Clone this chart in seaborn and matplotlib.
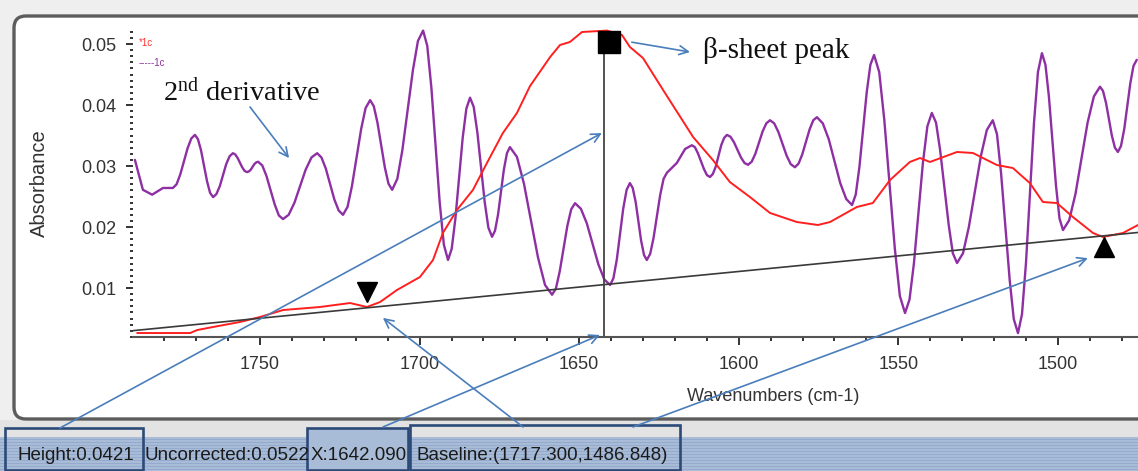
import matplotlib
matplotlib.use("Agg")
import matplotlib.pyplot as plt
import seaborn as sns
from matplotlib.patches import FancyBboxPatch, Rectangle
from matplotlib.ticker import MultipleLocator

# ---------------- data ----------------
absorb_wn = [1788.5, 1771.9, 1769.7, 1764.7, 1756.3, 1750.0, 1742.8, 1731.2, 1721.8, 1716.5,
             1712.4, 1707.1, 1699.9, 1695.8, 1692.7, 1688.3, 1683.3, 1678.9, 1673.9, 1669.5,
             1665.4, 1659.1, 1656.0, 1652.9, 1649.1, 1641.3, 1636.6, 1634.1, 1630.0, 1623.7,
             1614.3, 1608.1, 1602.8, 1596.5, 1590.2, 1581.8, 1575.2, 1571.4, 1563.0, 1558.0,
             1552.6, 1546.4, 1543.2, 1540.1, 1531.6, 1526.6, 1519.1, 1514.1, 1508.8, 1504.7,
             1500.3, 1495.3, 1489.0, 1485.9, 1479.6, 1474.9]
absorb_val = [0.00262, 0.00262, 0.00311, 0.00361, 0.00443, 0.00525, 0.00639, 0.00689, 0.00754, 0.00689,
              0.00770, 0.00967, 0.01180, 0.01459, 0.01902, 0.02279, 0.02607, 0.03049, 0.03541, 0.03869,
              0.04311, 0.04787, 0.04984, 0.05033, 0.05197, 0.05220, 0.05148, 0.04951, 0.04770, 0.04246,
              0.03475, 0.03098, 0.02738, 0.02492, 0.02230, 0.02082, 0.02033, 0.02082, 0.02328, 0.02393,
              0.02770, 0.03066, 0.03131, 0.03066, 0.03230, 0.03213, 0.03016, 0.02967, 0.02721, 0.02410,
              0.02393, 0.02164, 0.01902, 0.01836, 0.01902, 0.02033]

deriv_wn = [1789.2, 1786.7, 1783.8, 1780.4, 1777.3, 1776.15, 1775.0, 1772.7, 1771.55, 1770.4,
            1769.45, 1768.5, 1766.6, 1765.65, 1764.7, 1763.67, 1762.6, 1760.6, 1759.53, 1758.5,
            1757.77, 1757.0, 1755.6, 1754.83, 1754.1, 1753.52, 1752.9, 1751.8, 1751.18, 1750.6,
            1749.3, 1748.0, 1745.4, 1744.1, 1742.8, 1741.02, 1739.2, 1735.7, 1733.88, 1732.1,
            1730.75, 1729.4, 1726.7, 1725.35, 1724.0, 1722.58, 1721.2, 1718.3, 1716.92, 1715.5,
            1714.35, 1713.2, 1710.9, 1709.75, 1708.6, 1706.98, 1705.4, 1702.1, 1700.52, 1698.9,
            1697.6, 1696.3, 1693.7, 1692.4, 1691.1, 1689.95, 1688.8, 1686.5, 1685.35, 1684.2,
            1683.05, 1681.9, 1679.6, 1678.45, 1677.3, 1676.37, 1675.4, 1673.6, 1672.63, 1671.7,
            1669.5, 1667.3, 1662.9, 1660.7, 1658.5, 1657.3, 1656.1, 1653.7, 1652.5, 1651.3,
            1649.47, 1647.6, 1644.0, 1642.13, 1640.3, 1639.27, 1638.2, 1636.2, 1635.13, 1634.1,
            1633.22, 1632.3, 1630.6, 1629.68, 1628.8, 1627.75, 1626.7, 1624.6, 1623.55, 1622.5,
            1619.4, 1616.8, 1614.7, 1613.75, 1612.8, 1610.9, 1609.95, 1609.0, 1608.12, 1607.2,
            1605.5, 1604.58, 1603.7, 1602.6, 1601.5, 1599.3, 1598.2, 1597.1, 1595.95, 1594.8,
            1592.5, 1591.35, 1590.2, 1588.9, 1587.6, 1585.0, 1583.7, 1582.4, 1581.25, 1580.1,
            1577.8, 1576.65, 1575.5, 1573.67, 1571.8, 1568.2, 1566.33, 1564.5, 1563.35, 1562.2,
            1559.9, 1558.75, 1557.6, 1555.98, 1554.4, 1551.1, 1549.52, 1547.9, 1546.5, 1545.1,
            1542.3, 1540.9, 1539.5, 1538.18, 1536.9, 1534.2, 1532.92, 1531.6, 1529.73, 1527.9,
            1524.1, 1522.27, 1520.4, 1519.08, 1517.8, 1515.1, 1513.82, 1512.5, 1511.25, 1510.0,
            1507.5, 1506.25, 1505.0, 1503.9, 1502.8, 1500.6, 1499.5, 1498.4, 1496.47, 1494.5,
            1490.7, 1488.73, 1486.8, 1485.87, 1484.9, 1483.1, 1482.13, 1481.2, 1480.22, 1479.2,
            1477.3, 1476.32, 1475.3]
deriv_val = [0.0310, 0.0261, 0.0253, 0.0264, 0.0264, 0.0270, 0.0286, 0.0329, 0.0345, 0.0351,
             0.0344, 0.0326, 0.0275, 0.0256, 0.0249, 0.0254, 0.0267, 0.0303, 0.0316, 0.0321,
             0.0319, 0.0313, 0.0298, 0.0292, 0.0290, 0.0291, 0.0294, 0.0303, 0.0306, 0.0307,
             0.0301, 0.0284, 0.0237, 0.0219, 0.0213, 0.0220, 0.0240, 0.0294, 0.0314, 0.0321,
             0.0314, 0.0296, 0.0245, 0.0227, 0.0220, 0.0233, 0.0267, 0.0361, 0.0395, 0.0408,
             0.0398, 0.0371, 0.0298, 0.0271, 0.0261, 0.0279, 0.0326, 0.0457, 0.0505, 0.0522,
             0.0497, 0.0428, 0.0240, 0.0171, 0.0146, 0.0164, 0.0213, 0.0346, 0.0394, 0.0412,
             0.0397, 0.0355, 0.0241, 0.0199, 0.0184, 0.0194, 0.0221, 0.0294, 0.0321, 0.0331,
             0.0315, 0.0271, 0.0150, 0.0105, 0.0089, 0.0099, 0.0127, 0.0202, 0.0229, 0.0239,
             0.0230, 0.0206, 0.0139, 0.0114, 0.0105, 0.0116, 0.0147, 0.0230, 0.0261, 0.0272,
             0.0264, 0.0241, 0.0178, 0.0154, 0.0146, 0.0156, 0.0182, 0.0253, 0.0279, 0.0289,
             0.0305, 0.0328, 0.0334, 0.0331, 0.0321, 0.0295, 0.0285, 0.0282, 0.0287, 0.0299,
             0.0334, 0.0346, 0.0351, 0.0348, 0.0339, 0.0314, 0.0305, 0.0302, 0.0307, 0.0320,
             0.0357, 0.0370, 0.0375, 0.0370, 0.0356, 0.0317, 0.0303, 0.0298, 0.0304, 0.0319,
             0.0360, 0.0375, 0.0380, 0.0370, 0.0344, 0.0272, 0.0246, 0.0236, 0.0253, 0.0298,
             0.0421, 0.0466, 0.0482, 0.0454, 0.0376, 0.0165, 0.0087, 0.0059, 0.0081, 0.0141,
             0.0305, 0.0365, 0.0387, 0.0371, 0.0326, 0.0203, 0.0157, 0.0141, 0.0157, 0.0200,
             0.0317, 0.0359, 0.0375, 0.0352, 0.0288, 0.0113, 0.0049, 0.0026, 0.0057, 0.0141,
             0.0370, 0.0454, 0.0485, 0.0466, 0.0413, 0.0268, 0.0214, 0.0195, 0.0211, 0.0254,
             0.0371, 0.0414, 0.0430, 0.0423, 0.0403, 0.0350, 0.0330, 0.0323, 0.0333, 0.0361,
             0.0436, 0.0464, 0.0474]

baseline_wn = [1790.0, 1475.0]
baseline_val = [0.0030, 0.0191]

start_marker = (1716.5, 0.0093)     # down triangle
end_marker = (1485.6, 0.0167)       # up triangle
peak_marker = (1640.7, 0.0504)      # square
peak_wn = 1642.09

x_ticks = [1750, 1700, 1650, 1600, 1550, 1500]
y_ticks = [0.01, 0.02, 0.03, 0.04, 0.05]
x_limits = (1789.8, 1474.9)
y_limits = (0.00197, 0.05246)

status_labels = ["Height:0.0421", "Uncorrected:0.0522", "X:1642.090",
                 "Baseline:(1717.300,1486.848)"]

# ---------------- style ----------------
sns.set_theme(style="white")
plt.rcParams['font.family'] = ['Liberation Sans', 'DejaVu Sans']
plt.rcParams['mathtext.fontset'] = 'custom'
plt.rcParams['mathtext.rm'] = 'Liberation Serif'
plt.rcParams['mathtext.it'] = 'Liberation Serif:italic'
plt.rcParams['lines.solid_joinstyle'] = 'round'

W, H = 1138, 471
fig = plt.figure(figsize=(W / 100, H / 100), dpi=100, facecolor='#efefef')

# background (window chrome)
bg = fig.add_axes([0, 0, 1, 1], zorder=0)
bg.set_xlim(0, W)
bg.set_ylim(H, 0)
bg.axis('off')
bg.add_patch(Rectangle((0, 420), W, 18, facecolor='#e3e3e3', edgecolor='none'))
bg.add_patch(Rectangle((0, 437), W, 34, facecolor='#a9bcd7', edgecolor='none'))
for yy in range(439, 471, 3):
    bg.add_patch(Rectangle((0, yy), W, 1.2, facecolor='#95abcd', edgecolor='none'))
bg.add_patch(FancyBboxPatch((14, 16), 1160, 403,
                            boxstyle="round,pad=0,rounding_size=12",
                            facecolor='white', edgecolor='#5c5c5c', linewidth=2.4))

# main axes
ax = fig.add_axes([133 / W, (H - 337) / H, (W - 133) / W, 308 / H], zorder=1)
ax.patch.set_alpha(0)

sns.lineplot(x=deriv_wn, y=deriv_val, ax=ax, color='#8e2fa3', lw=1.7, estimator=None)
sns.lineplot(x=absorb_wn, y=absorb_val, ax=ax, color='#ff1f1f', lw=1.4, estimator=None)
sns.lineplot(x=baseline_wn, y=baseline_val, ax=ax, color='#3a3a3a', lw=1.2, estimator=None)

ax.vlines(peak_wn, y_limits[0], peak_marker[1], color='#444444', lw=1.3)
ax.plot([start_marker[0]], [start_marker[1]], marker='v', ms=14, color='black', clip_on=False)
ax.plot([end_marker[0]], [end_marker[1]], marker='^', ms=15, color='black', clip_on=False)
ax.plot([peak_marker[0]], [peak_marker[1]], marker='s', ms=16, color='black', clip_on=False)

ax.set_xlim(*x_limits)
ax.set_ylim(*y_limits)
ax.set_xticks(x_ticks)
ax.set_yticks(y_ticks)
ax.set_xticklabels([str(t) for t in x_ticks])
ax.set_yticklabels([f"{t:.2f}" for t in y_ticks])
ax.xaxis.set_minor_locator(MultipleLocator(10))
ax.yaxis.set_minor_locator(MultipleLocator(0.001))
for s in ['top', 'right', 'left']:
    ax.spines[s].set_visible(False)
ax.spines['bottom'].set_color('#555555')
ax.spines['bottom'].set_linewidth(1.5)
ax.tick_params(axis='x', which='major', direction='out', length=6, width=1.4,
               color='#333333', labelsize=13, labelcolor='#333333', pad=8)
ax.tick_params(axis='x', which='minor', direction='out', length=3, width=1.4, color='#333333')
ax.tick_params(axis='y', which='major', direction='out', length=5, width=1.4,
               color='#333333', labelsize=13, labelcolor='#333333', pad=7)
ax.tick_params(axis='y', which='minor', direction='out', length=2, width=1.4, color='#333333')
ax.tick_params(bottom=True, left=True, which='both')

ax.set_xlabel("Wavenumbers (cm-1)", fontsize=13, color='#333333')
ax.set_ylabel("Absorbance", fontsize=14.5, color='#333333')
ax.xaxis.set_label_coords(0.637, -0.165)
ax.yaxis.set_label_coords(-0.084, 0.5)

# overlay (annotations)
ov = fig.add_axes([0, 0, 1, 1], zorder=3)
ov.set_xlim(0, W)
ov.set_ylim(H, 0)
ov.axis('off')
ov.patch.set_alpha(0)

ov.text(139, 43, "*1c", color='#ff3030', fontsize=7, va='center', ha='left')
ov.text(139, 63, "-----1c", color='#8e2fa3', fontsize=7, va='center', ha='left')

ov.text(163, 100, r"2$^{\mathrm{nd}}$ derivative", family='Liberation Serif',
        fontsize=20.5, color='#111111', va='baseline', ha='left')
ov.text(703, 58, "\u03b2-sheet peak", family='Liberation Serif',
        fontsize=21, color='#111111', va='baseline', ha='left')

arrow_kw = dict(arrowstyle='->', color='#4a7ebb', lw=1.2, shrinkA=0, shrinkB=0,
                mutation_scale=16)
# (tail in window pixels, head in data coordinates)
arrows = [((250, 107), (1740.9, 0.0313)),
          ((60, 428), (1642.9, 0.0354)),
          ((383, 427), (1643.5, 0.0023)),
          ((523, 427), (1711.5, 0.0051)),
          ((633, 427), (1490.6, 0.0149))]
for tail, head in arrows:
    ov.annotate("", xy=head, xycoords=ax.transData, xytext=tail, textcoords='data',
                arrowprops=arrow_kw, annotation_clip=False)
ov.annotate("", xy=(690, 52), xycoords='data', xytext=(1633.5, 0.0503),
            textcoords=ax.transData, arrowprops=arrow_kw, annotation_clip=False)

# status bar texts and boxes
ov.text(18, 455, status_labels[0], fontsize=13.5, color='#1a1a1a', va='center', ha='left')
ov.text(145, 455, status_labels[1], fontsize=13.5, color='#1a1a1a', va='center', ha='left')
ov.add_patch(Rectangle((307, 428), 101, 42, facecolor='#a9bcd7', edgecolor='none'))
ov.text(311, 455, status_labels[2], fontsize=13.5, color='#1a1a1a', va='center', ha='left')
ov.text(417, 455, status_labels[3], fontsize=13.5, color='#1a1a1a', va='center', ha='left')
box_kw = dict(facecolor='none', edgecolor='#2c4a78', linewidth=1.9)
ov.add_patch(Rectangle((5, 428), 138, 42, **box_kw))
ov.add_patch(Rectangle((307, 428), 101, 42, **box_kw))
ov.add_patch(Rectangle((410, 425), 270, 45, **box_kw))

fig.savefig("out.png", dpi=100, facecolor=fig.get_facecolor())
